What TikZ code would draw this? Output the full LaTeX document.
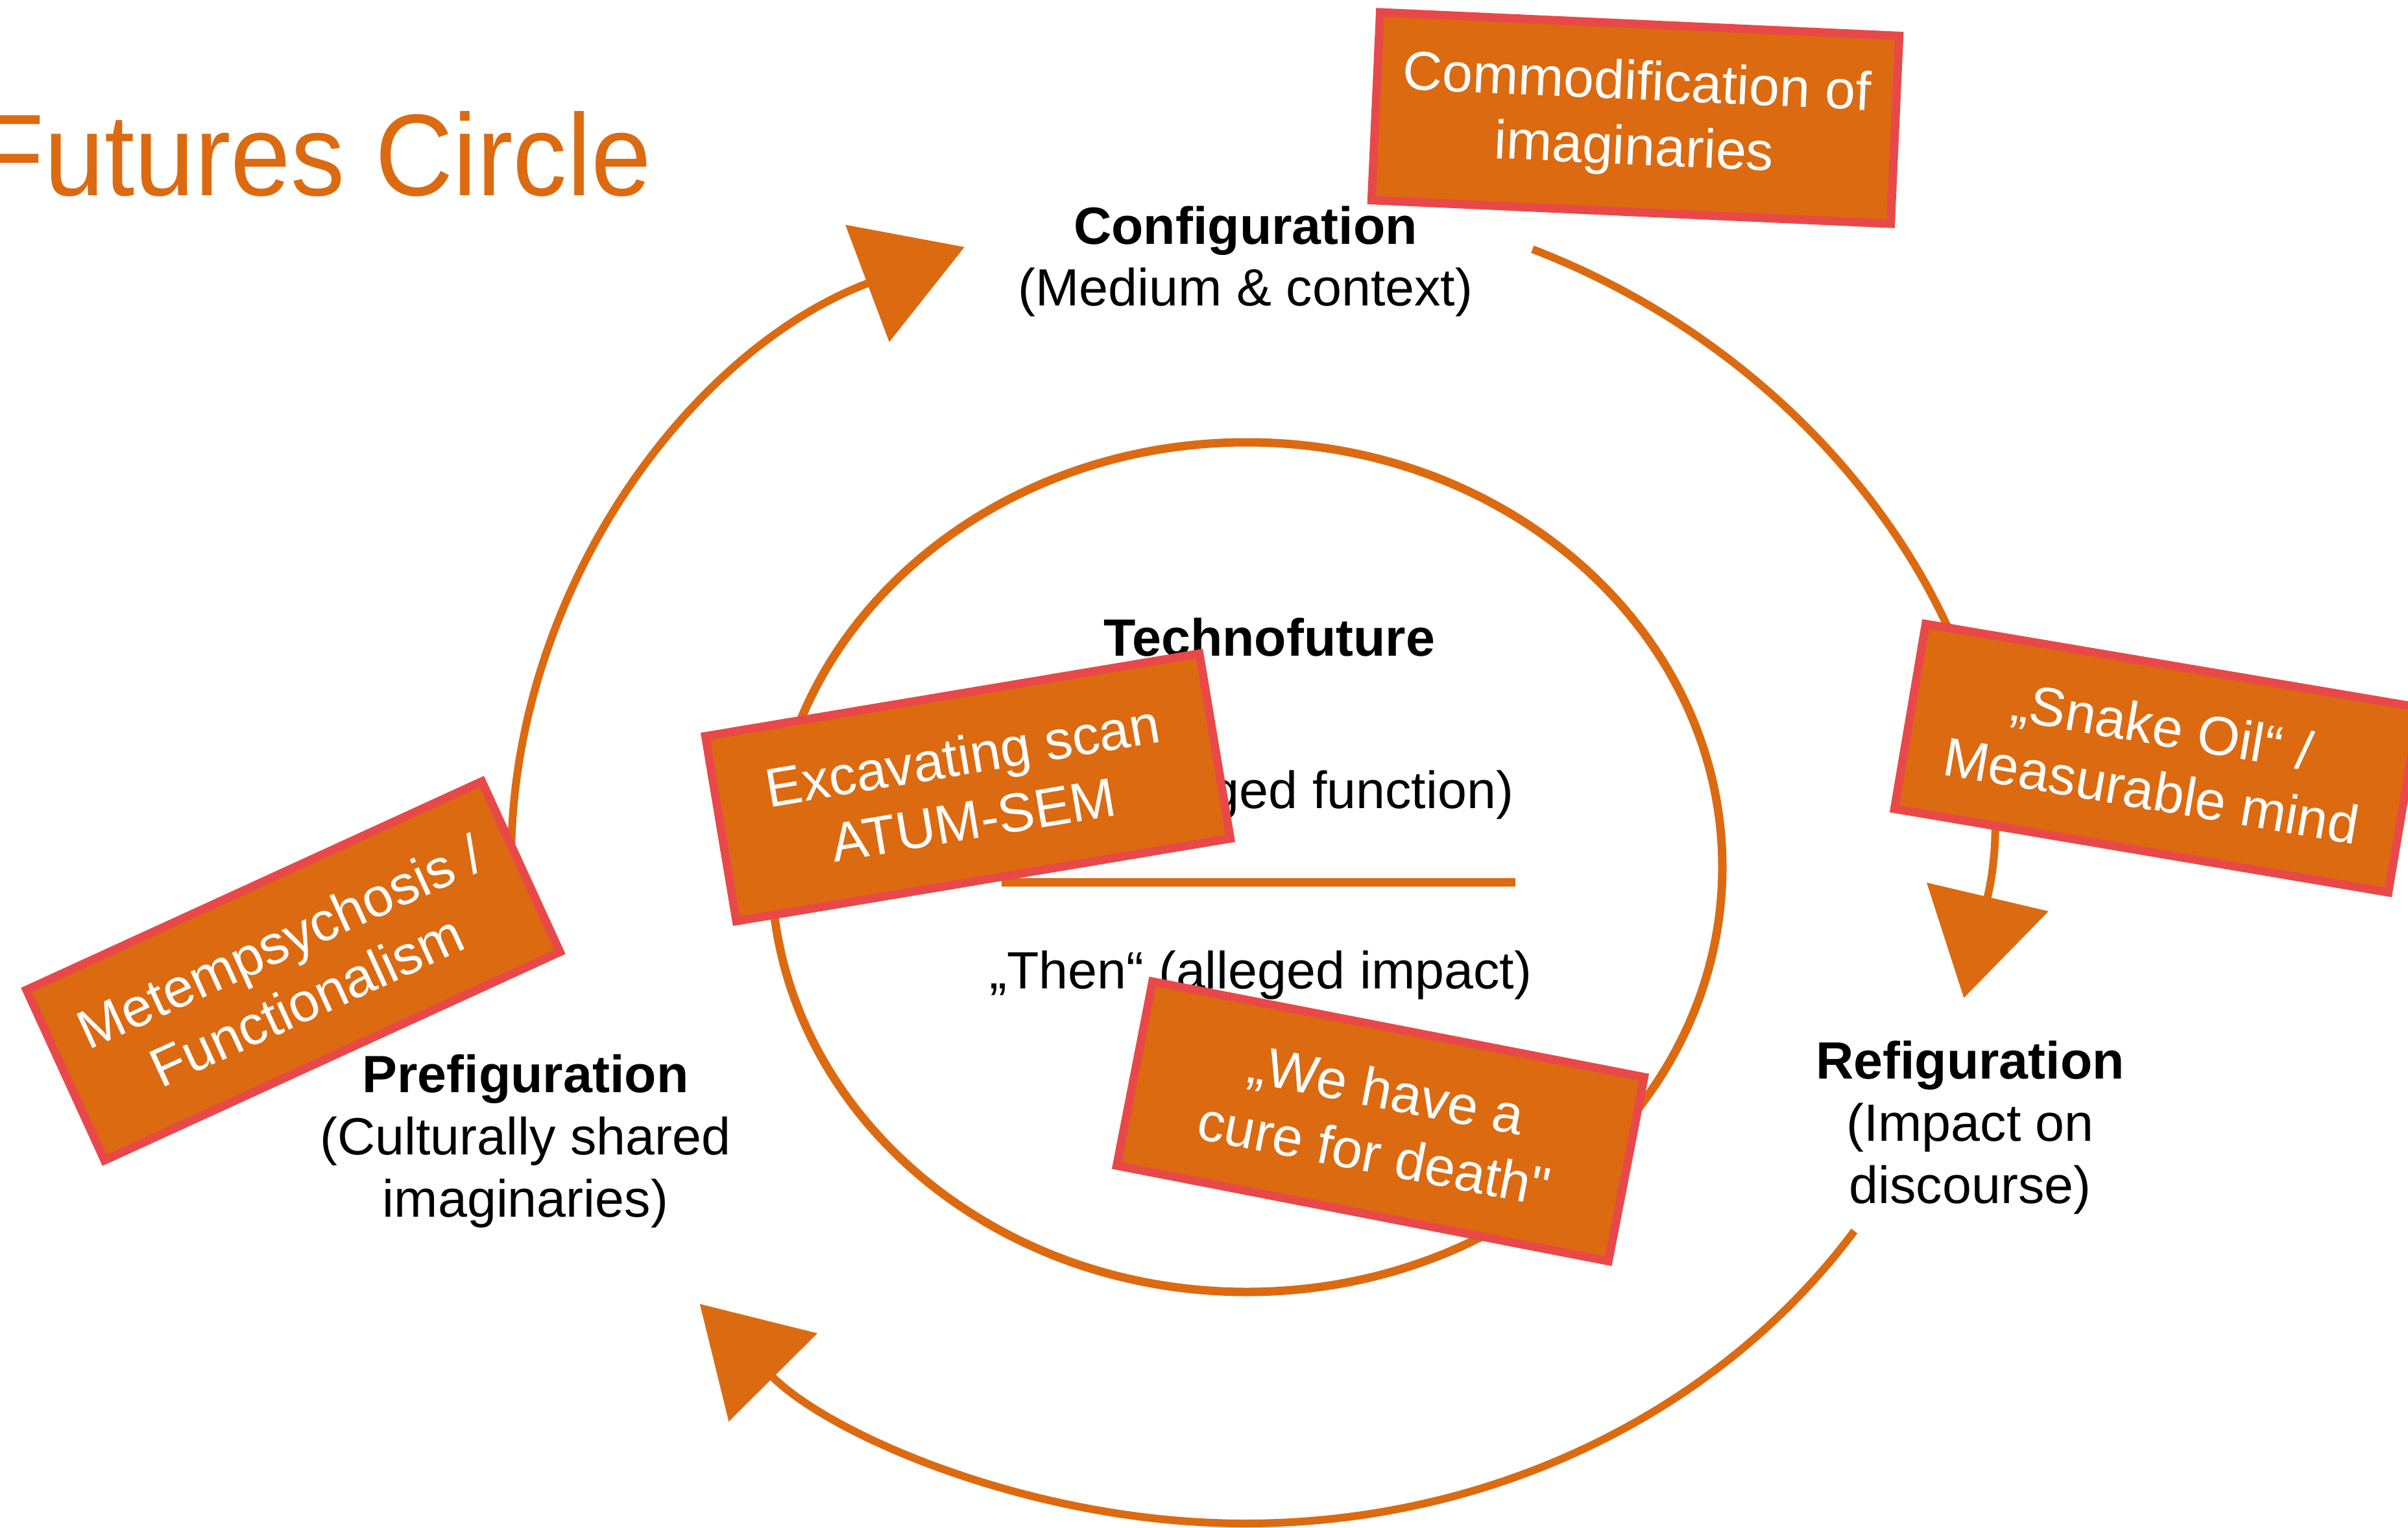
\documentclass[tikz,border=0pt]{standalone}
\usepackage{fontspec}
\setmainfont{Liberation Sans}
\usepackage{xcolor}
\usepackage{tikz}
\usetikzlibrary{arrows.meta}

\definecolor{futorange}{RGB}{220,106,17}
\definecolor{futred}{RGB}{233,72,72}

\tikzset{
  cyc/.style={futorange, line width=0.12cm, -{Triangle[length=16mm,width=19mm]}},
  ring/.style={futorange, line width=0.13cm},
  lbl/.style={align=center, inner sep=0pt, font=\fontsize{23pt}{27.3pt}\selectfont},
  tag/.style={fill=futorange, draw=futred, line width=0.13cm, text=white, align=center,
    inner sep=0pt, minimum width=7.72cm, minimum height=2.89cm,
    font=\fontsize{24pt}{28.5pt}\selectfont}
}

\begin{document}
\begin{tikzpicture}
\useasboundingbox (0,0) rectangle (37.12,-23.56);

\node[anchor=base east, text=futorange, inner sep=0pt, font=\fontsize{51pt}{60pt}\selectfont] (title) at (10.05,-3.02) {\scalebox{0.93}[1]{Futures Circle}};

\coordinate (O) at (19.20,-13.26);
\coordinate (I) at (19.22,-13.37);

% outer cycle
\draw[cyc] ([shift={(180:11.32cm and 10.23cm)}]O) arc[start angle=180, end angle=112.5, x radius=11.32cm, y radius=10.23cm];
\draw[cyc] ([shift={(67:11.32cm and 10.23cm)}]O) arc[start angle=67, end angle=-12, x radius=11.32cm, y radius=10.23cm];
\draw[cyc] ([shift={(-34:11.32cm and 10.23cm)}]O) arc[start angle=-34, end angle=-138, x radius=11.32cm, y radius=10.23cm];

% inner circle
\draw[ring] (I) ellipse[x radius=7.33cm, y radius=6.55cm];
\coordinate (divL) at (15.44,-13.60);
\coordinate (divR) at (23.36,-13.60);
\draw[ring] (divL)--(divR);

% anchor=base sits on the last line
\node[lbl, anchor=base] (conf) at (19.20,-4.72) {\textbf{Configuration}\\(Medium \& context)};
\node[lbl, anchor=base] (techno) at (19.57,-10.11) {\textbf{Technofuture}};
\node[lbl, anchor=base east] (now) at (23.34,-12.46) {„Now“ (alleged function)};
\node[lbl, anchor=base east] (then) at (23.62,-15.24) {„Then“ (alleged impact)};
\node[lbl, anchor=base] (pre) at (8.10,-18.76) {\textbf{Prefiguration}\\(Culturally shared\\imaginaries)};
\node[lbl, anchor=base] (re) at (30.37,-18.55) {\textbf{Refiguration}\\(Impact on\\discourse)};

\node[tag, rotate=-2.6, minimum width=8.01cm, minimum height=2.90cm] (comm) at (25.21,-1.82) {Commodification of\\imaginaries};
\node[tag, rotate=-9.6] (snake) at (33.25,-11.69) {„Snake Oil“ /\\Measurable mind};
\node[tag, rotate=9.5] (excav) at (14.92,-12.14) {Excavating scan\\ATUM-SEM};
\node[tag, rotate=-11.0] (cure) at (21.28,-17.29) {„We have a\\cure for death\textquotedbl};
\node[tag, rotate=24.6] (metem) at (4.52,-14.97) {Metempsychosis /\\Functionalism};

\end{tikzpicture}
\end{document}
